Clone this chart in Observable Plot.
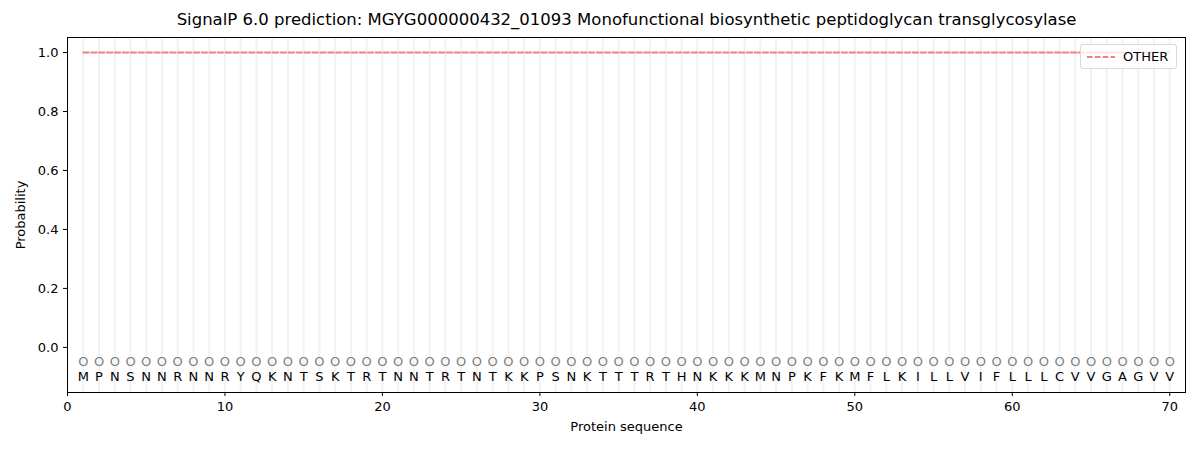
<!DOCTYPE html>
<html>
<head>
<meta charset="utf-8">
<script src="https://cdn.jsdelivr.net/npm/d3@7"></script>
<script src="https://cdn.jsdelivr.net/npm/@observablehq/plot@0.6"></script>
<style>
  html, body { margin: 0; padding: 0; background: #fff; }
  #wrap { position: relative; width: 1200px; height: 450px; font-family: "DejaVu Sans", sans-serif; }
  #legend { position: absolute; left: 1080px; top: 44px; width: 97px; height: 25px; box-sizing: border-box;
    border: 1px solid #d9d9d9; border-radius: 3px; background: rgba(255,255,255,0.8);
    font-size: 13px; color: #000; display: flex; align-items: center; }
  #legend svg { margin-left: 6px; margin-right: 8px; }
</style>
</head>
<body>
<div id="wrap"></div>
<script>
const sequence = "MPNSNNRNNRYQKNTSKTRTNNTRTNTKKPSNKTTTRTHNKKKMNPKFKMFLKILLVIFLLLCVVGAGVV".split("");
const positions = sequence.map((_, i) => i + 1);
const otherProb = positions.map(() => 1.0);
const predLabels = positions.map(() => "O");
const xTicks = [0, 10, 20, 30, 40, 50, 60, 70];
const yTicks = [0.0, 0.2, 0.4, 0.6, 0.8, 1.0];
const title = "SignalP 6.0 prediction: MGYG000000432_01093 Monofunctional biosynthetic peptidoglycan transglycosylase";

const rows = positions.map((p, i) => ({pos: p, aa: sequence[i], other: otherProb[i], lab: predLabels[i]}));

const chart = Plot.plot({
  width: 1200,
  height: 450,
  marginLeft: 67,
  marginRight: 15,
  marginTop: 37,
  marginBottom: 58,
  style: {fontFamily: "DejaVu Sans, sans-serif", fontSize: "13px", color: "#000", background: "#fff"},
  x: {domain: [0, 71], ticks: xTicks, tickFormat: d3.format("d"), label: "Protein sequence", labelAnchor: "center", labelOffset: 38, tickSize: 4},
  y: {domain: [-0.153, 1.051], ticks: yTicks, tickFormat: d3.format(".1f"), label: "Probability", labelAnchor: "center", labelOffset: 52, tickSize: 4},
  marks: [
    Plot.ruleX(rows, {x: "pos", stroke: "#f2f2f2", strokeWidth: 2}),
    Plot.line(rows, {x: "pos", y: "other", stroke: "#f08080", strokeWidth: 2, strokeDasharray: "5.5,2.4"}),
    Plot.text(rows, {x: "pos", y: -0.05, text: "lab", fill: "#808080", fontSize: 13}),
    Plot.text(rows, {x: "pos", y: -0.1, text: "aa", fill: "#000", fontSize: 13}),
    Plot.frame({stroke: "#000", strokeWidth: 1}),
    Plot.axisX({ticks: xTicks, tickFormat: d3.format("d"), tickSize: 4, fontSize: 13, label: "Protein sequence", labelAnchor: "center", labelOffset: 38, labelArrow: "none"}),
    Plot.axisY({ticks: yTicks, tickFormat: d3.format(".1f"), tickSize: 4, fontSize: 13, label: "Probability", labelAnchor: "center", labelOffset: 52, labelArrow: "none"}),
    Plot.text([title], {frameAnchor: "top", dy: -24, text: d => d, fontSize: 16.5, fill: "#000"})
  ]
});
document.getElementById("wrap").appendChild(chart);

const legend = document.createElement("div");
legend.id = "legend";
legend.innerHTML = '<svg width="28" height="4"><line x1="0" y1="2" x2="28" y2="2" stroke="#f08080" stroke-width="2" stroke-dasharray="5.5,2.4"/></svg><span>OTHER</span>';
document.getElementById("wrap").appendChild(legend);
</script>
</body>
</html>
